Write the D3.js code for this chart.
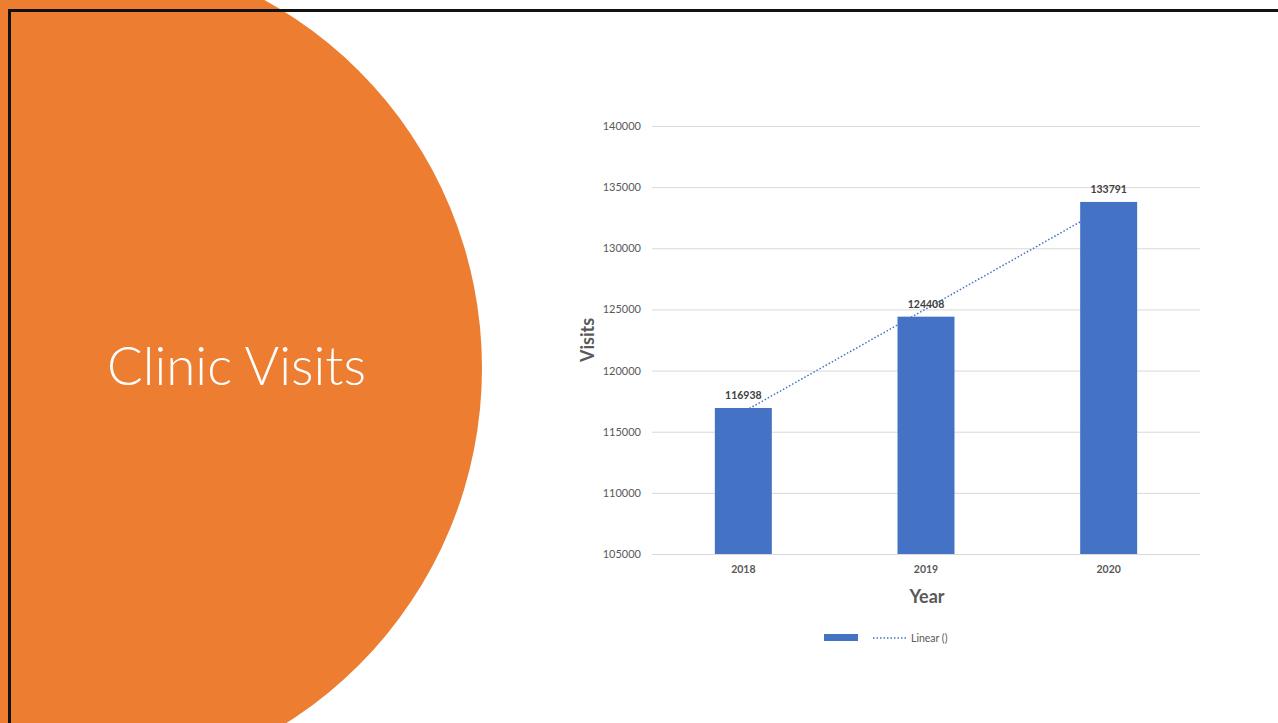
<!DOCTYPE html>
<html><head><meta charset="utf-8">
<script src="https://cdn.jsdelivr.net/npm/d3@7"></script>
<style>
html,body{margin:0;padding:0;background:#fff;overflow:hidden;}
svg{display:block;font-family:Lato,"Open Sans",sans-serif;}
</style></head>
<body>
<svg id="c" width="1278" height="723"></svg>
<script>
const years = ["2018", "2019", "2020"];
const visits = [116938, 124408, 133791];
const yTicks = [105000, 110000, 115000, 120000, 125000, 130000, 135000, 140000];
const titleText = "Clinic Visits";
const xTitle = "Year";
const yTitle = "Visits";
const legendTrend = "Linear ()";

const svg = d3.select("#c");

// slide background decorations
svg.append("circle").attr("cx", 62).attr("cy", 368).attr("r", 420).attr("fill", "#ED7D31");
svg.append("path").attr("d", "M9.5,723 V10.5 H1278").attr("fill", "none").attr("stroke", "#111").attr("stroke-width", 3);

const t = svg.append("text").attr("x", 107).attr("y", 385).attr("fill", "#fff")
  .attr("font-weight", 300).attr("font-size", 48).text(titleText);
const tw = t.node().getComputedTextLength();
t.attr("font-size", 48 * 259 / tw);

// chart
const x = d3.scaleBand().domain(years).range([652, 1200]).paddingInner(0.688).paddingOuter(0.344);
const y = d3.scaleLinear().domain([105000, 140000]).range([554, 126]);

// gridlines
svg.append("g").selectAll("line").data(yTicks).join("line")
  .attr("x1", 652).attr("x2", 1200)
  .attr("y1", d => y(d) + 0.5).attr("y2", d => y(d) + 0.5)
  .attr("stroke", "#d9d9d9").attr("stroke-width", 1);

// y axis labels
const yAxis = d3.axisLeft(y).tickValues(yTicks).tickSize(0).tickPadding(11).tickFormat(d3.format("d"));
const gy = svg.append("g").attr("transform", "translate(652,0)").call(yAxis);
gy.select(".domain").remove();
gy.selectAll("text").attr("fill", "#595959").attr("font-size", 11).attr("font-family", "Lato");

// trendline (least squares), drawn behind bars
const xi = years.map((d, i) => i + 1);
const mx = d3.mean(xi), my = d3.mean(visits);
const slope = d3.sum(xi.map((v, i) => (v - mx) * (visits[i] - my))) / d3.sum(xi.map(v => (v - mx) ** 2));
const icpt = my - slope * mx;
const trendPts = years.map((d, i) => [x(d) + x.bandwidth() / 2, y(icpt + slope * (i + 1))]);
svg.append("path").attr("d", d3.line()(trendPts)).attr("fill", "none")
  .attr("stroke", "#4472C4").attr("stroke-width", 1.5).attr("stroke-dasharray", "1.5,2");

// bars
svg.append("g").selectAll("rect").data(years).join("rect")
  .attr("x", d => x(d)).attr("width", x.bandwidth())
  .attr("y", (d, i) => y(visits[i])).attr("height", (d, i) => y(105000) - y(visits[i]))
  .attr("fill", "#4472C4");

// x axis baseline
svg.append("line").attr("x1", 652).attr("x2", 1200).attr("y1", 554.5).attr("y2", 554.5)
  .attr("stroke", "#d9d9d9").attr("stroke-width", 1);

// x axis labels
const xAxis = d3.axisBottom(x).tickSize(0).tickPadding(12);
const gx = svg.append("g").attr("transform", "translate(0,554)").call(xAxis);
gx.select(".domain").remove();
gx.selectAll("text").attr("fill", "#595959").attr("font-size", 10.5).attr("font-weight", 700).attr("font-family", "Lato");

// data labels
svg.append("g").selectAll("text").data(years).join("text")
  .attr("x", d => x(d) + x.bandwidth() / 2).attr("y", (d, i) => y(visits[i]) - 9)
  .attr("text-anchor", "middle").attr("font-size", 10.5).attr("font-weight", 700).attr("fill", "#404040")
  .text((d, i) => visits[i]);

// axis titles
svg.append("text").attr("x", 927).attr("y", 603).attr("text-anchor", "middle")
  .attr("font-size", 18).attr("font-weight", 700).attr("fill", "#595959").text(xTitle);
svg.append("text").attr("transform", "translate(594,340) rotate(-90)").attr("text-anchor", "middle")
  .attr("font-size", 18).attr("font-weight", 700).attr("fill", "#595959").text(yTitle);

// legend
svg.append("rect").attr("x", 824).attr("y", 634).attr("width", 34).attr("height", 7).attr("fill", "#4472C4");
svg.append("line").attr("x1", 873).attr("x2", 907).attr("y1", 638).attr("y2", 638)
  .attr("stroke", "#4472C4").attr("stroke-width", 1.5).attr("stroke-dasharray", "1.5,2");
svg.append("text").attr("x", 911).attr("y", 642).attr("font-size", 10.5).attr("fill", "#595959").text(legendTrend);
</script>
</body></html>
